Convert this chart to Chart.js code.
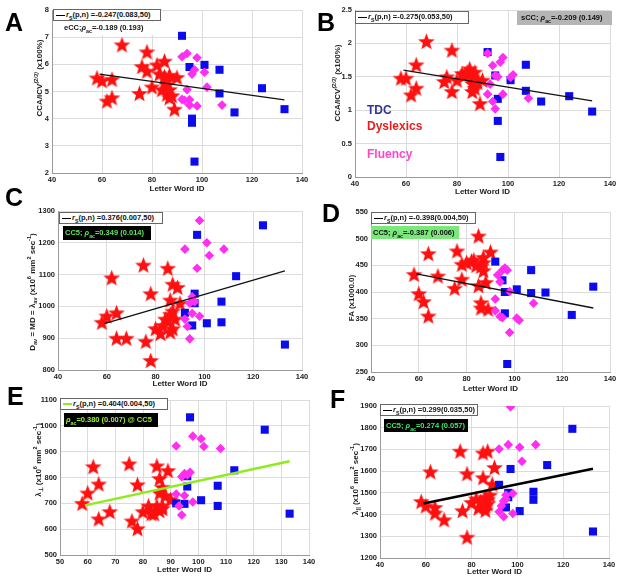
<!DOCTYPE html>
<html>
<head>
<meta charset="utf-8">
<script src="https://cdn.jsdelivr.net/npm/chart.js@4.4.0/dist/chart.umd.min.js"></script>
<style>
  body { margin: 0; width: 624px; height: 578px; background: #fff; position: relative; overflow: hidden; font-family: 'Liberation Sans', Arial, sans-serif; }
  canvas { position: absolute; }
  .lbl { position: absolute; font-weight: bold; font-size: 25px; line-height: 25px; color: #000; }
  .ytl { position: absolute; font-weight: bold; font-size: 8px; white-space: nowrap; color: #222; transform: translate(-50%, -50%) rotate(-90deg); }
  .box { position: absolute; font-weight: bold; font-size: 7.5px; white-space: nowrap; box-sizing: border-box; padding-left: 2px; color: #111; }
  .b1 { background: #fff; border: 1px solid #666; line-height: 10px; }
  .b2 { line-height: 12px; }
  .ln { display: inline-block; width: 9px; height: 1px; background: #000; vertical-align: middle; margin-right: 1px; }
  sub, sup { font-size: 70%; line-height: 0; }
  .key { position: absolute; font-weight: bold; font-size: 12px; line-height: 12px; }
</style>
</head>
<body>

<div class="lbl" style="left:5px;top:10px">A</div>
<div class="lbl" style="left:317px;top:10px">B</div>
<div class="lbl" style="left:5px;top:185px">C</div>
<div class="lbl" style="left:322px;top:201px">D</div>
<div class="lbl" style="left:7px;top:384px">E</div>
<div class="lbl" style="left:330px;top:387px">F</div>

<div class="ytl" style="left:39px;top:78px">CCA/ICV<sup><i>(2/3)</i></sup> (x100%)</div>
<div class="ytl" style="left:337px;top:83px">CCA/ICV<sup><i>(2/3)</i></sup> (x100%)</div>
<div class="ytl" style="left:32px;top:292px">D<sub>av</sub> = MD = &lambda;<sub>av</sub> (x10<sup>6</sup> mm<sup>2</sup> sec<sup>-1</sup>)</div>
<div class="ytl" style="left:351px;top:298px">FA (x1000.0)</div>
<div class="ytl" style="left:38px;top:460px">&lambda;<sub>&perp;</sub> (x10<sup>6</sup> mm<sup>2</sup> sec<sup>-1</sup>)</div>
<div class="ytl" style="left:355px;top:479px">&lambda;<sub>||</sub> (x10<sup>6</sup> mm<sup>2</sup> sec<sup>-1</sup>)</div>

<script>
'use strict';

// data: each subject group shares its Letter Word ID values across the panels

let starX = [58, 60, 62, 64, 64, 68, 75, 76, 78, 78, 80, 82, 83, 84, 85, 85, 86, 86, 86, 87, 87, 87, 88, 89, 90];
let squareX = [92, 95, 96, 96, 97, 101, 107, 107, 113, 124, 133];
let diamondX = [92, 92, 93, 94, 94, 95, 95, 96, 97, 98, 98, 101, 102, 108];
let fitX = [59, 133];

let starA = [5.5, 5.4, 4.65, 5.45, 4.77, 6.72, 4.93, 5.92, 6.46, 5.75, 5.17, 5.98, 5.65, 5.07, 6.12, 5.55, 5.25, 4.9, 5.4, 4.77, 5.07, 5.6, 4.85, 4.35, 5.52];
let squareA = [7.05, 5.9, 4.0, 3.85, 2.42, 5.98, 5.8, 4.93, 4.23, 5.12, 4.35];
let diamondA = [6.28, 4.71, 4.68, 6.4, 5.07, 4.7, 4.5, 5.64, 5.8, 6.24, 4.47, 5.71, 5.16, 4.5];
let fitA = [5.64, 4.69];

let starB = [1.48, 1.48, 1.23, 1.68, 1.33, 2.03, 1.43, 1.5, 1.9, 1.28, 1.45, 1.55, 1.52, 1.57, 1.62, 1.55, 1.5, 1.28, 1.4, 1.33, 1.57, 1.47, 1.42, 1.1, 1.45];
let squareB = [1.87, 1.52, 1.17, 0.84, 0.3, 1.45, 1.68, 1.29, 1.13, 1.21, 0.98];
let diamondB = [1.85, 1.24, 1.39, 1.67, 1.13, 1.52, 1.02, 1.5, 1.72, 1.79, 1.24, 1.49, 1.53, 1.18];
let fitB = [1.6, 1.14];

let starC = [950, 970, 1090, 980, 900, 900, 1130, 890, 1040, 830, 930, 915, 940, 960, 1120, 955, 1020, 975, 920, 1070, 930, 985, 960, 1060, 1010];
let squareC = [980, 940, 1040, 1010, 1225, 947, 1015, 950, 1095, 1255, 880];
let diamondC = [1180, 960, 937, 898, 1010, 1030, 978, 1015, 1120, 1270, 969, 1200, 1160, 1180];
let fitC = [946, 1112];

let starD = [433, 397, 382, 472, 355, 430, 407, 477, 452, 424, 455, 458, 460, 450, 505, 412, 380, 370, 448, 465, 440, 455, 418, 368, 475];
let squareD = [457, 422, 400, 360, 265, 405, 441, 398, 399, 357, 410];
let diamondD = [387, 365, 432, 354, 419, 441, 352, 445, 441, 401, 324, 351, 347, 379];
let fitD = [434, 370];

let starE = [700, 740, 842, 775, 640, 668, 853, 632, 772, 602, 668, 690, 660, 660, 845, 690, 796, 740, 672, 762, 680, 690, 730, 827, 715];
let squareE = [700, 698, 765, 805, 1033, 712, 768, 690, 828, 985, 660];
let diamondE = [922, 736, 690, 803, 655, 815, 730, 810, 820, 960, 705, 950, 920, 912];
let fitE = [692, 863];

let starF = [1460, 1440, 1597, 1433, 1407, 1376, 1692, 1418, 1588, 1296, 1456, 1472, 1430, 1460, 1684, 1570, 1480, 1440, 1420, 1692, 1470, 1450, 1490, 1540, 1617];
let squareF = [1537, 1433, 1500, 1480, 1610, 1416, 1505, 1468, 1628, 1795, 1322];
let diamondF = [1702, 1413, 1440, 1463, 1390, 1490, 1470, 1722, 1897, 1497, 1405, 1710, 1645, 1722];
let fitF = [1451, 1611];

// tick labels
let xTicks = [40, 60, 80, 100, 120, 140];
let xTicksE = [50, 60, 70, 80, 90, 100, 110, 120, 130, 140];
let yTicksA = [2, 3, 4, 5, 6, 7, 8];
let yTicksB = [0, 0.5, 1, 1.5, 2, 2.5];
let yTicksC = [800, 900, 1000, 1100, 1200, 1300];
let yTicksD = [250, 300, 350, 400, 450, 500, 550];
let yTicksE = [500, 600, 700, 800, 900, 1000, 1100];
let yTicksF = [1200, 1300, 1400, 1500, 1600, 1700, 1800, 1900];

let fontFamily = "'Liberation Sans', Arial, sans-serif";

// filled five point star for the dyslexic group
function makeStar() {
  let c = document.createElement('canvas');
  c.width = 19;
  c.height = 19;
  let ctx = c.getContext('2d');
  ctx.beginPath();
  for (let i = 0; i < 10; i++) {
    let r = i % 2 === 0 ? 8.8 : 3.7;
    let a = -Math.PI / 2 + i * Math.PI / 5;
    ctx.lineTo(9.5 + r * Math.cos(a), 10.2 + r * Math.sin(a));
  }
  ctx.closePath();
  ctx.fillStyle = '#ff1010';
  ctx.fill();
  return c;
}

let starImg = makeStar();

function pts(xs, ys) {
  return xs.map((x, i) => ({ x: x, y: ys[i] }));
}

function tickScale(ticks, fixSize, horizontal, title) {
  return {
    type: 'linear',
    min: ticks[0],
    max: ticks[ticks.length - 1],
    afterBuildTicks: s => { s.ticks = ticks.map(v => ({ value: v })); },
    afterFit: s => { if (horizontal) { s.height = fixSize; } else { s.width = fixSize; } },
    grid: { color: '#dcdcdc', lineWidth: 1, drawTicks: false },
    border: { color: '#9a9a9a' },
    ticks: {
      color: '#222',
      padding: horizontal ? 2 : 3,
      autoSkip: false,
      maxRotation: 0,
      font: { family: fontFamily, size: 7.5, weight: 'bold' },
      callback: v => String(v)
    },
    title: {
      display: !!title,
      text: title || '',
      color: '#222',
      padding: 0,
      font: { family: fontFamily, size: 8, weight: 'bold', lineHeight: 1.2 }
    }
  };
}

function drawPanel(p) {
  let c = document.createElement('canvas');
  c.width = p.cw;
  c.height = p.ch;
  c.style.left = p.cx + 'px';
  c.style.top = p.cy + 'px';
  if (p.white) { c.style.background = '#fff'; }
  document.body.insertBefore(c, document.body.firstChild);

  new Chart(c, {
    type: 'scatter',
    data: {
      datasets: [
        { data: pts(fitX, p.fit), showLine: true, borderColor: p.lineColor, borderWidth: p.lineWidth, pointRadius: 0 },
        { data: pts(diamondX, p.diamond), pointStyle: 'rectRot', pointRadius: 4.8, backgroundColor: '#ff2ef2', borderColor: '#ff2ef2', borderWidth: 0 },
        { data: pts(squareX, p.square), pointStyle: 'rect', pointRadius: 5.7, backgroundColor: '#0b0bee', borderColor: '#0b0bee', borderWidth: 0 },
        { data: pts(starX, p.star), pointStyle: starImg, pointRadius: 9 }
      ]
    },
    options: {
      responsive: false,
      animation: false,
      devicePixelRatio: 1,
      events: [],
      layout: { padding: { top: p.T - p.cy, right: p.cx + p.cw - p.R, left: 0, bottom: 0 } },
      plugins: { legend: { display: false }, tooltip: { enabled: false } },
      scales: {
        x: tickScale(p.xTicks, p.xh, true, 'Letter Word ID'),
        y: tickScale(p.yTicks, p.L - p.cx, false, null)
      }
    }
  });
}

let panels = [
  { cx: 0, cy: 0, cw: 312, ch: 194, L: 52, R: 304, T: 8, B: 173, xh: 21, xTicks: xTicks, yTicks: yTicksA,
    star: starA, square: squareA, diamond: diamondA, fit: fitA, lineColor: '#111', lineWidth: 1.3 },
  { cx: 312, cy: 0, cw: 312, ch: 197, L: 355, R: 610, T: 7, B: 177, xh: 20, xTicks: xTicks, yTicks: yTicksB,
    star: starB, square: squareB, diamond: diamondB, fit: fitB, lineColor: '#111', lineWidth: 1.3 },
  { cx: 0, cy: 195, cw: 312, ch: 194, L: 58, R: 302, T: 211, B: 370, xh: 19, xTicks: xTicks, yTicks: yTicksC,
    star: starC, square: squareC, diamond: diamondC, fit: fitC, lineColor: '#111', lineWidth: 1.3 },
  { cx: 312, cy: 198, cw: 312, ch: 196, L: 371, R: 610, T: 212, B: 372, xh: 22, xTicks: xTicks, yTicks: yTicksD,
    star: starD, square: squareD, diamond: diamondD, fit: fitD, lineColor: '#111', lineWidth: 1.3 },
  { cx: 0, cy: 390, cw: 322, ch: 185, L: 60, R: 309, T: 397, B: 555, xh: 20, xTicks: xTicksE, yTicks: yTicksE,
    star: starE, square: squareE, diamond: diamondE, fit: fitE, lineColor: '#8fec1c', lineWidth: 2.5 },
  { cx: 312, cy: 396, cw: 312, ch: 181, L: 380, R: 609, T: 404, B: 558, xh: 19, xTicks: xTicks, yTicks: yTicksF,
    star: starF, square: squareF, diamond: diamondF, fit: fitF, lineColor: '#000', lineWidth: 2.5, white: true }
];

// each new canvas is put first in the body, so later panels land under the text boxes
for (let i = 0; i < panels.length; i++) {
  drawPanel(panels[i]);
}
</script>

<div class="box b1" style="left:53px;top:9px;width:108px;height:12px"><span class="ln"></span><i>r</i><sub>S</sub>(p,n) =-0.247(0.083,50)</div>
<div class="box b2" style="left:53px;top:22px;width:102px;height:13px;background:#fff;padding-left:11px">eCC;<i>&rho;</i><sub>ac</sub>=-0.189 (0.193)</div>

<div class="box b1" style="left:355px;top:11px;width:114px;height:13px"><span class="ln"></span><i>r</i><sub>S</sub>(p,n) =-0.275(0.053,50)</div>
<div class="box b2" style="left:517px;top:11px;width:95px;height:14px;background:#b5b5b5;padding-left:4px;line-height:14px">sCC; <i>&rho;</i><sub>ac</sub>=-0.209 (0.149)</div>
<div class="key" style="left:367px;top:104px;color:#333399">TDC</div>
<div class="key" style="left:367px;top:120px;color:#ee1c1c">Dyslexics</div>
<div class="key" style="left:367px;top:148px;color:#ff44cc">Fluency</div>

<div class="box b1" style="left:59px;top:212px;width:104px;height:12px"><span class="ln"></span><i>r</i><sub>S</sub>(p,n) =0.376(0.007,50)</div>
<div class="box b2" style="left:63px;top:226px;width:88px;height:14px;background:#000;color:#5ee65e;line-height:14px">CC5; <i>&rho;</i><sub>ac</sub>=0.349 (0.014)</div>

<div class="box b1" style="left:371px;top:212px;width:105px;height:12px"><span class="ln"></span><i>r</i><sub>S</sub>(p,n) =-0.398(0.004,50)</div>
<div class="box b2" style="left:371px;top:226px;width:88px;height:13px;background:#7be87b;line-height:13px">CC5; <i>&rho;</i><sub>ac</sub>=-0.387 (0.006)</div>

<div class="box b1" style="left:60px;top:398px;width:108px;height:12px"><span class="ln" style="background:#8fec1c;height:2px"></span><i>r</i><sub>S</sub>(p,n) =0.404(0.004,50)</div>
<div class="box b2" style="left:64px;top:413px;width:94px;height:14px;background:#000;color:#9ef02a;line-height:14px"><i>&rho;</i><sub>ac</sub>=0.380 (0.007) @ CC5</div>

<div class="box b1" style="left:380px;top:404px;width:98px;height:12px"><span class="ln"></span><i>r</i><sub>S</sub>(p,n) =0.299(0.035,50)</div>
<div class="box b2" style="left:384px;top:419px;width:84px;height:13px;background:#000;color:#3ee86a;line-height:13px">CC5; <i>&rho;</i><sub>ac</sub>=0.274 (0.057)</div>

</body>
</html>
